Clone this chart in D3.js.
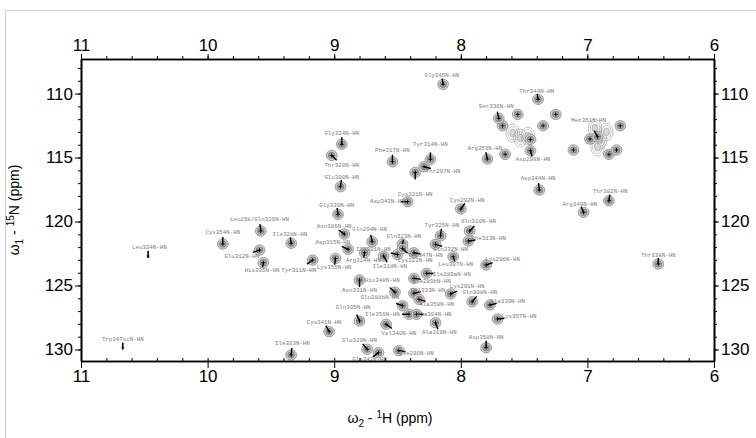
<!DOCTYPE html>
<html>
<head>
<meta charset="utf-8">
<script src="https://cdn.jsdelivr.net/npm/d3@7"></script>
<style>
  body { margin: 0; background: #fff; }
  svg { display: block; }
</style>
</head>
<body>
<div id="chartDiv"></div>
<script>
// HSQC spectrum, 1H (x) vs 15N (y), ppm

var hTicks = [11, 10, 9, 8, 7, 6];
var nTicks = [110, 115, 120, 125, 130];

// [label, H ppm, N ppm, label H ppm, label N ppm]
var assigned = [
  ["Gly345N-HN", 8.14, 109.28, 8.15, 108.61],
  ["Thr344N-HN", 7.39, 110.45, 7.40, 109.80],
  ["Ser336N-HN", 7.70, 111.94, 7.72, 111.03],
  ["Asp298N-HN", 7.45, 114.47, 7.43, 115.14],
  ["Arg353N-HN", 7.79, 115.12, 7.81, 114.26],
  ["Tyr314N-HN", 8.24, 115.14, 8.24, 113.97],
  ["Thr297N-HN", 8.29, 115.72, 8.14, 116.11],
  ["Cys321N-HN", 8.36, 116.16, 8.36, 117.85],
  ["Phe317N-HN", 8.54, 115.33, 8.54, 114.41],
  ["Gly324N-HN", 8.94, 113.97, 8.94, 113.09],
  ["Thr320N-HN", 9.02, 114.83, 8.94, 115.61],
  ["Glu300N-HN", 8.95, 117.28, 8.94, 116.52],
  ["Met351N-HN", 6.92, 113.38, 6.99, 112.07],
  ["Asp344N-HN", 7.38, 117.54, 7.39, 116.60],
  ["Thr302N-HN", 6.83, 118.38, 6.82, 117.67],
  ["Arg349N-HN", 7.03, 119.28, 7.06, 118.63],
  ["Thr338N-HN", 6.44, 123.32, 6.44, 122.62],
  ["Cys292N-HN", 8.00, 119.02, 7.95, 118.32],
  ["Gln310N-HN", 7.93, 120.74, 7.86, 120.02],
  ["Tyr325N-HN", 8.16, 121.11, 8.15, 120.33],
  ["Phe313N-HN", 7.94, 121.52, 7.78, 121.31],
  ["Gln332N-HN", 8.20, 121.78, 8.08, 122.15],
  ["Leu307N-HN", 8.06, 122.75, 8.04, 123.32],
  ["Lys296N-HN", 7.80, 123.40, 7.67, 122.93],
  ["Ile289aN-HN", 8.27, 124.05, 8.07, 124.10],
  ["Ile289bN-HN", 8.37, 124.44, 8.23, 124.65],
  ["Lys291N-HN", 8.08, 125.66, 7.95, 125.09],
  ["Val333N-HN", 8.37, 125.61, 8.26, 125.35],
  ["Ala350N-HN", 8.33, 126.08, 8.19, 126.52],
  ["Gln308N-HN", 7.91, 126.27, 7.85, 125.56],
  ["Ala339N-HN", 7.77, 126.52, 7.63, 126.21],
  ["Lys357N-HN", 7.71, 127.62, 7.54, 127.44],
  ["Ala319N-HN", 8.20, 127.91, 8.17, 128.69],
  ["Ile356N-HN", 8.41, 127.25, 8.62, 127.25],
  ["Ala304N-HN", 8.35, 127.25, 8.21, 127.23],
  ["Asp358N-HN", 7.80, 129.86, 7.80, 129.05],
  ["Gln305N-HN", 8.80, 127.77, 8.85, 126.70],
  ["Cys341N-HN", 9.04, 128.61, 9.08, 127.88],
  ["Val340N-HN", 8.59, 128.03, 8.49, 128.73],
  ["Ile303N-HN", 9.34, 130.43, 9.33, 129.52],
  ["Glu329N-HN", 8.74, 129.98, 8.80, 129.26],
  ["Gln342N-HN", 8.65, 130.25, 8.72, 130.77],
  ["Ile290N-HN", 8.49, 130.09, 8.35, 130.30],
  ["Glu288bN-HN", 8.46, 126.58, 8.64, 125.92],
  ["His348N-HN", 8.52, 125.52, 8.62, 124.63],
  ["Asn331N-HN", 8.80, 124.57, 8.80, 125.35],
  ["Leu298/Gln326N-HN", 9.58, 120.74, 9.59, 119.83],
  ["Ile328N-HN", 9.34, 121.70, 9.35, 121.00],
  ["Asn306N-HN", 8.92, 120.98, 9.00, 120.41],
  ["Gln294N-HN", 8.70, 121.58, 8.72, 120.66],
  ["Gln323N-HN", 8.46, 121.76, 8.45, 121.19],
  ["Asp315N-HN", 8.89, 122.17, 9.01, 121.63],
  ["Gly330N-HN", 8.97, 119.44, 8.98, 118.71],
  ["Asp343N-HN", 8.42, 118.45, 8.58, 118.45],
  ["Cys354N-HN", 9.88, 121.76, 9.88, 120.88],
  ["Glu312N-HN", 9.59, 122.23, 9.73, 122.70],
  ["His335N-HN", 9.56, 123.22, 9.57, 123.79],
  ["Tyr311N-HN", 9.17, 123.01, 9.28, 123.79],
  ["Lys355N-HN", 8.99, 122.88, 9.00, 123.61],
  ["Arg314N-HN", 8.76, 122.44, 8.77, 123.05],
  ["Ile301N-HN", 8.50, 122.58, 8.69, 122.15],
  ["Ile318N-HN", 8.61, 122.70, 8.56, 123.50],
  ["Trp347N-HN", 8.37, 122.44, 8.28, 122.62],
  ["Cys322N-HN", 8.46, 122.10, 8.36, 123.05]
];

// weak peaks: only a marker, no contours
var weak = [
  ["Leu334N-HN", 10.47, 122.62, 10.46, 122.05],
  ["Trp347scN-HN", 10.67, 129.78, 10.67, 129.18]
];

// unassigned backbone / side chain peaks [H, N]
var unassigned = [
  [7.67, 112.52], [7.55, 111.63], [7.25, 111.63], [7.35, 112.52],
  [7.45, 113.58], [7.65, 114.75], [7.11, 114.41], [6.74, 112.52],
  [6.98, 113.55], [6.83, 114.75], [6.77, 114.41]
];

// overlapped side chain contours [H, N]
var clusters = [
  [7.59, 113.09], [7.53, 113.48], [7.47, 113.32],
  [6.94, 112.70], [6.90, 113.63], [6.85, 113.00], [6.92, 114.18]
];

var width = 756, height = 438;
var x = d3.scaleLinear().domain([11, 6]).range([81, 714]);
var y = d3.scaleLinear().domain([107.3, 130.9]).range([59, 361]);

var svg = d3.select("#chartDiv").append("svg")
  .attr("width", width).attr("height", height);

svg.append("rect")
  .attr("x", 5.5).attr("y", 10.5)
  .attr("width", 760).attr("height", 440)
  .attr("fill", "none").attr("stroke", "#cfcfcf");

var plot = svg.append("g");

// side chain contour clusters
clusters.forEach(function(c) {
  [9, 6.5, 4].forEach(function(r, i) {
    plot.append("ellipse")
      .attr("cx", x(c[0])).attr("cy", y(c[1]))
      .attr("rx", r * 0.75).attr("ry", r)
      .attr("fill", i == 2 ? "#d6d6d6" : "none")
      .attr("stroke", "#9a9a9a").attr("stroke-width", 0.6);
  });
});

function drawPeak(h, n) {
  var cx = x(h), cy = y(n);
  plot.append("ellipse").attr("cx", cx).attr("cy", cy)
    .attr("rx", 5.4).attr("ry", 5.2)
    .attr("fill", "#cdcdcd").attr("stroke", "#8c8c8c").attr("stroke-width", 0.8);
  plot.append("ellipse").attr("cx", cx).attr("cy", cy)
    .attr("rx", 3.3).attr("ry", 3.1)
    .attr("fill", "#ababab").attr("stroke", "#6a6a6a").attr("stroke-width", 0.7);
  plot.append("path")
    .attr("d", "M" + (cx - 2) + "," + cy + "h4M" + cx + "," + (cy - 2) + "v4")
    .attr("stroke", "#000").attr("stroke-width", 0.9);
}

function drawPointer(d) {
  var cx = x(d[1]), cy = y(d[2]);
  var lx = x(d[3]), ly = y(d[4]);
  var dx = lx - cx, dy = ly - cy;
  var len = Math.sqrt(dx * dx + dy * dy);
  if (len < 1) return;
  var l = Math.min(7, len - 3);
  if (l <= 0) return;
  plot.append("line")
    .attr("x1", cx).attr("y1", cy)
    .attr("x2", cx + dx / len * l).attr("y2", cy + dy / len * l)
    .attr("stroke", "#000").attr("stroke-width", 1.4);
}

unassigned.forEach(function(p) { drawPeak(p[0], p[1]); });
assigned.forEach(function(d) { drawPeak(d[1], d[2]); });
assigned.forEach(drawPointer);

weak.forEach(function(d) {
  var cx = x(d[1]), cy = y(d[2]);
  plot.append("line").attr("x1", cx).attr("x2", cx)
    .attr("y1", cy - 4).attr("y2", cy + 3)
    .attr("stroke", "#000").attr("stroke-width", 1.6);
  plot.append("path")
    .attr("d", "M" + (cx - 1.5) + "," + (cy + 1) + "h3")
    .attr("stroke", "#000").attr("stroke-width", 0.8);
});

plot.selectAll("text.lab")
  .data(assigned.concat(weak))
  .enter().append("text")
  .attr("class", "lab")
  .attr("x", function(d) { return x(d[3]); })
  .attr("y", function(d) { return y(d[4]); })
  .attr("text-anchor", "middle")
  .attr("dominant-baseline", "middle")
  .style("font-family", "'Liberation Mono', 'DejaVu Sans Mono', monospace")
  .style("font-size", "5.8px")
  .style("fill", "#7a7a7a")
  .text(function(d) { return d[0]; });

// axes
var tickFont = "'Liberation Sans Narrow', 'Liberation Sans', Arial, sans-serif";
var hMinor = d3.range(60, 111, 2).map(function(v) { return v / 10; });
var nMinor = d3.range(108, 131, 1);

function styleAxis(g) {
  g.select(".domain").attr("stroke-width", 1.6);
  g.selectAll("line").attr("stroke-width", 1);
  g.selectAll("text").style("font-family", tickFont).style("font-size", "17px").style("fill", "#000");
}

svg.append("g").attr("transform", "translate(0,59)")
  .call(d3.axisTop(x).tickValues(hMinor).tickSize(3).tickSizeOuter(0).tickFormat(""))
  .call(styleAxis);
svg.append("g").attr("transform", "translate(0,59)")
  .call(d3.axisTop(x).tickValues(hTicks).tickSize(5).tickSizeOuter(0).tickPadding(3).tickFormat(d3.format("d")))
  .call(styleAxis);

svg.append("g").attr("transform", "translate(0,361)")
  .call(d3.axisBottom(x).tickValues(hMinor).tickSize(-3).tickSizeOuter(0).tickFormat(""))
  .call(styleAxis);
svg.append("g").attr("transform", "translate(0,361)")
  .call(d3.axisBottom(x).tickValues(hTicks).tickSize(7).tickSizeOuter(0).tickPadding(2).tickFormat(d3.format("d")))
  .call(styleAxis);

svg.append("g").attr("transform", "translate(81,0)")
  .call(d3.axisLeft(y).tickValues(nMinor).tickSize(3).tickSizeOuter(0).tickFormat(""))
  .call(styleAxis);
svg.append("g").attr("transform", "translate(81,0)")
  .call(d3.axisLeft(y).tickValues(nTicks).tickSize(6).tickSizeOuter(0).tickPadding(2).tickFormat(d3.format("d")))
  .call(styleAxis);

svg.append("g").attr("transform", "translate(714,0)")
  .call(d3.axisRight(y).tickValues(nMinor).tickSize(3).tickSizeOuter(0).tickFormat(""))
  .call(styleAxis);
svg.append("g").attr("transform", "translate(714,0)")
  .call(d3.axisRight(y).tickValues(nTicks).tickSize(5).tickSizeOuter(0).tickPadding(2).tickFormat(d3.format("d")))
  .call(styleAxis);

// axis titles
var xt = svg.append("text")
  .attr("x", 390).attr("y", 423)
  .attr("text-anchor", "middle")
  .style("font-family", tickFont).style("font-size", "14px");
xt.append("tspan").text("ω");
xt.append("tspan").attr("dy", 4).style("font-size", "10px").text("2");
xt.append("tspan").attr("dy", -4).text(" - ");
xt.append("tspan").attr("dy", -5).style("font-size", "10px").text("1");
xt.append("tspan").attr("dy", 5).text("H  (ppm)");

var yt = svg.append("text")
  .attr("transform", "translate(19,210) rotate(-90)")
  .attr("text-anchor", "middle")
  .style("font-family", tickFont).style("font-size", "14px");
yt.append("tspan").text("ω");
yt.append("tspan").attr("dy", 4).style("font-size", "10px").text("1");
yt.append("tspan").attr("dy", -4).text(" - ");
yt.append("tspan").attr("dy", -5).style("font-size", "10px").text("15");
yt.append("tspan").attr("dy", 5).text("N  (ppm)");
</script>
</body>
</html>
